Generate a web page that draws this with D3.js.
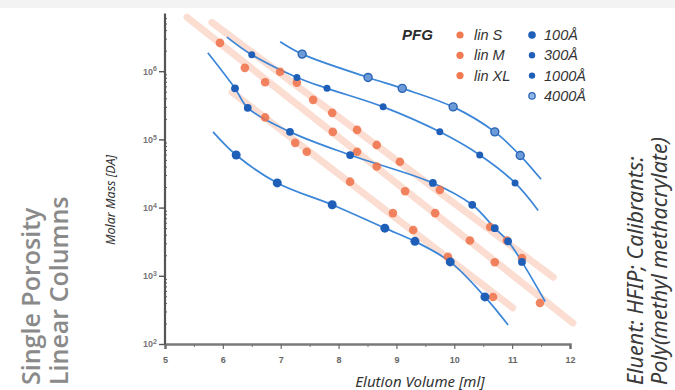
<!DOCTYPE html>
<html lang="en">
<head>
<meta charset="UTF-8">
<title>PFG calibration curves</title>
<script src="https://d3js.org/d3.v7.min.js"></script>
<style>
  body { margin: 0; background: #fff; font-family: "Noto Sans", "Open Sans", Arial, sans-serif; }
  svg { display: block; }
</style>
</head>
<body>
<div id="chart"></div>
<script>
// axis ticks
const volumeTicks = [5, 6, 7, 8, 9, 10, 11, 12];
const volumeMinor = [5.5, 6.5, 7.5, 8.5, 9.5, 10.5, 11.5];
const massTicks = [1e2, 1e3, 1e4, 1e5, 1e6];
const massTop = 7e6;

// single porosity columns: measured points [elution volume ml, molar mass]
const pore100Pts = [[6.23, 5.9e4], [6.94, 2.3e4], [7.89, 1.1e4], [8.80, 5.0e3], [9.32, 3.2e3], [9.93, 1.6e3], [10.53, 490]];
const pore100Ends = [[5.83, 1.29e5], [10.93, 190]];
const pore300Pts = [[6.21, 5.6e5], [6.43, 2.9e5], [7.16, 1.29e5], [8.20, 5.9e4], [9.63, 2.3e4], [10.31, 1.1e4], [10.70, 5.0e3], [10.93, 3.2e3], [11.17, 1.6e3]];
const pore300Ends = [[5.74, 1.86e6], [11.57, 420]];
const pore1000Pts = [[6.50, 1.74e6], [7.28, 8.1e5], [7.80, 5.6e5], [8.77, 3.0e5], [9.75, 1.29e5], [10.44, 5.9e4], [11.05, 2.3e4]];
const pore1000Ends = [[6.07, 3.16e6], [11.45, 9.1e3]];
const pore4000Pts = [[7.37, 1.78e6], [8.51, 8.1e5], [9.10, 5.6e5], [9.98, 3.0e5], [10.70, 1.29e5], [11.14, 5.8e4]];
const pore4000Ends = [[6.99, 2.7e6], [11.50, 2.6e4]];

// linear columns: measured points and fitted line ends
const linSPts = [[6.73, 2.1e5], [7.25, 8.9e4], [7.45, 6.6e4], [8.20, 2.4e4], [8.94, 8.3e3], [9.29, 4.7e3], [9.89, 1.9e3], [10.67, 490]];
const linSEnds = [[6.16, 4.9e5], [11.01, 340]];
const linMPts = [[5.95, 2.6e6], [6.38, 1.12e6], [6.73, 6.9e5], [7.90, 1.29e5], [8.32, 6.6e4], [8.66, 4.0e4], [9.15, 1.74e4], [9.67, 8.3e3], [10.27, 3.3e3], [10.70, 1.58e3], [11.48, 400]];
const linMEnds = [[5.38, 6.2e6], [12.05, 204]];
const linXLPts = [[6.99, 9.8e5], [7.28, 6.8e5], [7.56, 3.8e5], [7.89, 2.45e5], [8.32, 1.38e5], [8.66, 8.3e4], [9.06, 4.7e4], [9.75, 1.82e4], [10.62, 5.2e3], [10.91, 3.3e3], [11.17, 1.82e3]];
const linXLEnds = [[5.81, 5.2e6], [11.71, 955]];

const linearNames = ["lin S", "lin M", "lin XL"];
const poreNames = ["100Å", "300Å", "1000Å", "4000Å"];

const W = 675, H = 390;
const svg = d3.select("#chart").append("svg").attr("width", W).attr("height", H);

svg.append("rect").attr("x", 0).attr("y", 0).attr("width", W).attr("height", 8).attr("fill", "#f3f3f3");

const x = d3.scaleLinear().domain([5, 12]).range([165, 570]);
const y = d3.scaleLog().domain([1e2, 1e7]).range([344, 3]);

// ---- axes
const xAxis = svg.append("g").attr("transform", `translate(0,${y(1e2)})`)
    .call(d3.axisBottom(x).tickValues(volumeTicks).tickSize(5).tickPadding(8).tickFormat(d3.format("d")));
xAxis.select(".domain").attr("stroke", "#7a7a7a").attr("stroke-width", 2.5);
xAxis.selectAll(".tick line").attr("stroke", "#6a6a6a").attr("stroke-width", 1.2);
xAxis.selectAll(".tick text").attr("fill", "#666").attr("font-size", 9).attr("font-weight", "bold");
svg.append("g").attr("transform", `translate(0,${y(1e2)})`)
    .call(d3.axisBottom(x).tickValues(volumeMinor).tickSize(3).tickFormat(""))
    .call(g => g.select(".domain").remove())
    .selectAll(".tick line").attr("stroke", "#777");

const minorMass = [];
for (let e = 2; e <= 6; e++) for (let k = 2; k <= 9; k++) {
    const v = k * Math.pow(10, e);
    if (v < massTop) minorMass.push(v);
}
svg.append("line")
    .attr("x1", x(5)).attr("x2", x(5))
    .attr("y1", y(1e2)).attr("y2", y(massTop))
    .attr("stroke", "#555").attr("stroke-width", 2.2);
svg.append("g").attr("transform", `translate(${x(5)},0)`)
    .call(d3.axisLeft(y).tickValues(minorMass).tickSize(3).tickFormat(""))
    .call(g => g.select(".domain").remove())
    .selectAll(".tick line").attr("stroke", "#555").attr("x2", 2);
const yAxis = svg.append("g").attr("transform", `translate(${x(5)},0)`)
    .call(d3.axisLeft(y).tickValues(massTicks).tickSize(6).tickFormat(""));
yAxis.select(".domain").remove();
yAxis.selectAll(".tick line").attr("stroke", "#555").attr("stroke-width", 1.4);
const yLab = yAxis.selectAll(".tick").append("text")
    .attr("x", -8).attr("dy", "0.32em").attr("text-anchor", "end")
    .attr("fill", "#777").attr("font-size", 9).attr("font-weight", "bold");
yLab.append("tspan").text("10");
yLab.append("tspan").attr("dy", "-0.45em").attr("font-size", 7).text(d => Math.round(Math.log10(d)));

// ---- linear columns (orange bands)
const line = d3.line().x(d => x(d[0])).y(d => y(d[1]));
const linear = [[linSPts, linSEnds], [linMPts, linMEnds], [linXLPts, linXLEnds]];
const bands = svg.append("g");
linear.forEach(([pts, ends]) => {
    bands.append("path").datum(ends).attr("d", line)
        .attr("fill", "none").attr("stroke", "#f6b398").attr("stroke-opacity", 0.45)
        .attr("stroke-width", 7).attr("stroke-linecap", "round");
});

// ---- single porosity curves (blue)
const curve = d3.line().x(d => x(d[0])).y(d => y(d[1])).curve(d3.curveCatmullRom.alpha(0.5));
const pores = [[pore100Pts, pore100Ends], [pore300Pts, pore300Ends], [pore1000Pts, pore1000Ends], [pore4000Pts, pore4000Ends]];
const blues = svg.append("g");
pores.forEach(([pts, ends]) => {
    blues.append("path").datum([ends[0], ...pts, ends[1]]).attr("d", curve)
        .attr("fill", "none").attr("stroke", "#3b86d8").attr("stroke-width", 1.7);
});

// orange markers
linear.forEach(([pts]) => {
    svg.append("g").selectAll("circle").data(pts).join("circle")
        .attr("cx", d => x(d[0])).attr("cy", d => y(d[1])).attr("r", 4.3)
        .attr("fill", "#ef7048").attr("fill-opacity", 0.85);
});
// blue markers
const poreR = [4.5, 3.9, 3.5, 4];
pores.forEach(([pts], i) => {
    svg.append("g").selectAll("circle").data(pts).join("circle")
        .attr("cx", d => x(d[0])).attr("cy", d => y(d[1])).attr("r", poreR[i])
        .attr("fill", i === 3 ? "#6c9bd8" : "#1f5fb8")
        .attr("stroke", i === 3 ? "#2a63b5" : "none").attr("stroke-width", 1.4);
});

// ---- legend
const leg = svg.append("g").attr("font-style", "italic").attr("font-family", "Arial, 'Liberation Sans', sans-serif");
leg.append("text").attr("x", 402).attr("y", 40).attr("font-size", 15).attr("font-weight", "bold")
    .attr("fill", "#2b2b2b").text("PFG");
linearNames.forEach((n, i) => {
    const cy = 35 + i * 20.3;
    leg.append("circle").attr("cx", 460).attr("cy", cy).attr("r", 3.6).attr("fill", "#f07a52");
    leg.append("text").attr("x", 474).attr("y", cy + 5).attr("font-size", 14.5).attr("fill", "#333").text(n);
});
poreNames.forEach((n, i) => {
    const cy = 35 + i * 20.3;
    leg.append("circle").attr("cx", 532).attr("cy", cy).attr("r", i === 0 ? 3.8 : 3.2)
        .attr("fill", i === 3 ? "#8fb4e6" : "#1f5fb8")
        .attr("stroke", i === 3 ? "#2a63b5" : "none").attr("stroke-width", 1.2);
    leg.append("text").attr("x", 544).attr("y", cy + 5).attr("font-size", 14.5).attr("fill", "#333").text(n);
});

// ---- axis titles
svg.append("text").attr("x", 420).attr("y", 387).attr("text-anchor", "middle")
    .attr("font-size", 15).attr("font-style", "italic").attr("fill", "#333")
    .text("Elution Volume [ml]");
svg.append("text").attr("transform", "translate(115,200) rotate(-90)").attr("text-anchor", "middle")
    .attr("font-size", 12.5).attr("font-style", "italic").attr("fill", "#333")
    .text("Molar Mass [DA]");

// ---- side captions
const left = svg.append("g").attr("fill", "#8a8a8a").attr("font-size", 25)
    .attr("font-family", "'Open Sans', 'Noto Sans', sans-serif").attr("font-weight", 600);
left.append("text").attr("transform", "translate(40,385) rotate(-90)").text("Single Porosity");
left.append("text").attr("transform", "translate(68,385) rotate(-90)").text("Linear Columns");
const right = svg.append("g").attr("fill", "#3a3a3a").attr("font-size", 21.5).attr("font-style", "italic");
right.append("text").attr("transform", "translate(643,385) rotate(-90)").text("Eluent: HFIP; Calibrants:");
right.append("text").attr("transform", "translate(667,385) rotate(-90)").text("Poly(methyl methacrylate)");
</script>
</body>
</html>
